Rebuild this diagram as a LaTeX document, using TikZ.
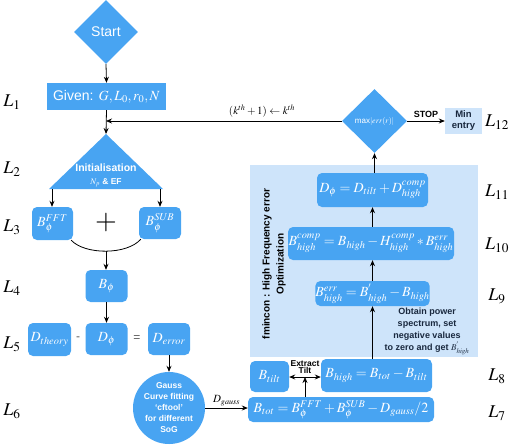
\documentclass[tikz,border=0pt]{standalone}
\usepackage{mathptmx}
\usepackage[no-math]{fontspec}
\setsansfont{Liberation Sans}
\usetikzlibrary{shapes.geometric,arrows.meta}
\definecolor{mblue}{RGB}{72,164,242}
\definecolor{lblue}{RGB}{206,228,250}
\definecolor{navy}{RGB}{25,40,62}
\tikzset{
 bx/.style={fill=mblue, rounded corners=5pt, text=white, inner sep=0pt, font=\fontsize{14}{16}\selectfont},
 arr/.style={-{Stealth[length=6pt,width=5pt]}, line width=0.8pt},
 dblarr/.style={{Stealth[length=6pt,width=5pt]}-{Stealth[length=6pt,width=5pt]}, line width=0.8pt},
 lvl/.style={font=\fontsize{18}{20}\selectfont},
 sbold/.style={font=\sffamily\bfseries\fontsize{#1}{#1}\selectfont},
}
\begin{document}
\begin{tikzpicture}[x=1pt,y=-1pt]
\useasboundingbox (0,0) rectangle (510,445);
% background panel
\node[fill=lblue, minimum width=228pt, minimum height=192pt, inner sep=0pt] (bg) at (364,261) {};
% left column
\node[diamond, fill=mblue, minimum width=64pt, minimum height=64pt, inner sep=0pt, text=white, font=\sffamily\fontsize{14}{16}\selectfont] (start) at (106,32) {Start};
\node[fill=mblue, minimum width=119pt, minimum height=27pt, inner sep=0pt, text=white, font=\sffamily\fontsize{14}{16}\selectfont] (given) at (106.5,96.5) {Given: $G, L_0, r_0, N$};
\coordinate (tritop) at (106,134);
\coordinate (triL) at (52,189);
\coordinate (triR) at (160,189);
\fill[mblue] (tritop) -- (163,189) -- (49,189) -- cycle;
\node[text=white, align=center, inner sep=0pt] (init) at (106,175) {{\sffamily\bfseries\fontsize{10.5}{12}\selectfont Initialisation}\\[1pt]{\sffamily\bfseries\fontsize{8.5}{10}\selectfont $N_p$ \& EF}};
\node[bx, minimum width=41pt, minimum height=33pt] (fft) at (52.5,223.5) {$B_\phi^{FFT}$};
\node[bx, minimum width=42pt, minimum height=32pt] (sub) at (160,223) {$B_\phi^{SUB}$};
\node[font=\fontsize{28}{30}\selectfont, inner sep=0pt] (plus) at (106,222) {$+$};
\coordinate (arcmid) at (106,251);
\node[bx, minimum width=42pt, minimum height=32pt] (bphi) at (106.5,286) {$B_\phi$};
\node[bx, minimum width=42pt, minimum height=32pt] (dphi) at (106.5,339) {$D_\phi$};
\node[bx, minimum width=43pt, minimum height=33pt] (dth) at (49.5,339.5) {$D_{theory}$};
\node[font=\sffamily\fontsize{12}{14}\selectfont, text=black!65] (minus) at (78,339) {-};
\node[font=\sffamily\fontsize{12}{14}\selectfont, text=black!65] (eq) at (137,339) {=};
\node[bx, minimum width=42pt, minimum height=32pt] (derr) at (169,339) {$D_{error}$};
\node[circle, fill=mblue, minimum size=72pt, inner sep=0pt, text=white, align=center, font=\sffamily\bfseries\fontsize{8.5}{11}\selectfont] (gauss) at (169,408) {Gauss\\Curve fitting\\`cftool'\\for different\\SoG};
% bottom right
\node[bx, minimum width=186pt, minimum height=25pt] (btot) at (341,409.5) {$B_{tot}=B_\phi^{FFT}+B_\phi^{SUB}-D_{gauss}/2$};
\node[bx, minimum width=39pt, minimum height=31pt] (btilt) at (269.5,376.5) {$B_{tilt}$};
\node[bx, minimum width=111pt, minimum height=33pt] (bhigh) at (376.5,375.5) {$B_{high}=B_{tot}-B_{tilt}$};
\coordinate (et) at (305,377);
\node[sbold=8.5, align=center, inner sep=0pt] (extr) at (305,367) {Extract\\[-1.5pt]Tilt};
% optimisation column
\node[bx, minimum width=109pt, minimum height=25pt] (berr) at (372.5,293.5) {$B_{high}^{err}=B_{high}^{'}-B_{high}$};
\node[bx, minimum width=166pt, minimum height=33pt] (bcomp) at (371,243.5) {$B_{high}^{comp}=B_{high}-H_{high}^{comp}*B_{high}^{err}$};
\node[bx, minimum width=111pt, minimum height=34pt] (dphi2) at (372.5,190) {$D_\phi=D_{tilt}+D_{high}^{comp}$};
\node[diamond, fill=mblue, minimum width=65pt, minimum height=64pt, inner sep=0pt, text=white, font=\sffamily\fontsize{8}{9}\selectfont] (dec) at (374.5,121) {max$|err(r)|$};
\node[fill=lblue, minimum width=37pt, minimum height=26pt, inner sep=0pt, align=center, text=navy, font=\sffamily\bfseries\fontsize{9.5}{11}\selectfont] (minent) at (463.5,121) {Min\\entry};
\node[align=center, text=navy, font=\sffamily\bfseries\fontsize{9}{12}\selectfont] (obt) at (427,331) {Obtain power\\spectrum, set\\negative values\\to zero and get $B_{high}^{'}$};
\node[rotate=90, align=center, font=\sffamily\bfseries\fontsize{10}{14}\selectfont] (fmin) at (274,264) {fmincon : High Frequency error\\Optimization};
\node[font=\fontsize{11}{13}\selectfont] (klab) at (262,111) {$(k^{th}+1)\leftarrow k^{th}$};
% connectors
\draw[arr] (start.south) -- (given.north);
\draw[arr] (given.south) -- (tritop);
\draw[arr] (dec.west) -- (dec.west -| tritop);
\draw[arr] (triL) -- (triL |- fft.north);
\draw[arr] (triR) -- (triR |- sub.north);
\draw[line width=0.8pt] ([xshift=-2pt]fft.south east) .. controls (85,255) and (127,255) .. ([xshift=2pt]sub.south west);
\draw[arr] (arcmid) -- (arcmid |- bphi.north);
\draw[arr] (bphi.south) -- (dphi.north);
\draw[arr] (derr.south) -- (gauss.north);
\draw[arr] (gauss.east) -- (gauss.east -| btot.west) node[midway, above, font=\fontsize{11}{13}\selectfont, inner sep=1.5pt] (dg) {$D_{gauss}$};
\draw[dblarr] (btilt.east |- et) -- (bhigh.west |- et);
\draw[arr] (et |- btot.north) -- (et);
\draw[arr] (bhigh.north -| berr.south) -- (berr.south);
\draw[arr] (berr.north) -- (berr.north |- bcomp.south);
\draw[arr] (bcomp.north -| dphi2.south) -- (dphi2.south);
\draw[arr] (dec.south |- dphi2.north) -- (dec.south);
\draw[arr] (dec.east) -- (minent.west) node[midway, above, sbold=9, inner sep=3pt] (stop) {STOP};
% level labels
\node[lvl] (l1) at (12,102) {$L_1$};
\node[lvl] (l2) at (12,169) {$L_2$};
\node[lvl] (l3) at (12,227) {$L_3$};
\node[lvl] (l4) at (12,288) {$L_4$};
\node[lvl] (l5) at (12,344) {$L_5$};
\node[lvl] (l6) at (12,411) {$L_6$};
\node[lvl] (l7) at (497,413) {$L_7$};
\node[lvl] (l8) at (497,376) {$L_8$};
\node[lvl] (l9) at (497,296) {$L_9$};
\node[lvl] (l10) at (497,245) {$L_{10}$};
\node[lvl] (l11) at (497,192) {$L_{11}$};
\node[lvl] (l12) at (497,122) {$L_{12}$};
\end{tikzpicture}
\end{document}
